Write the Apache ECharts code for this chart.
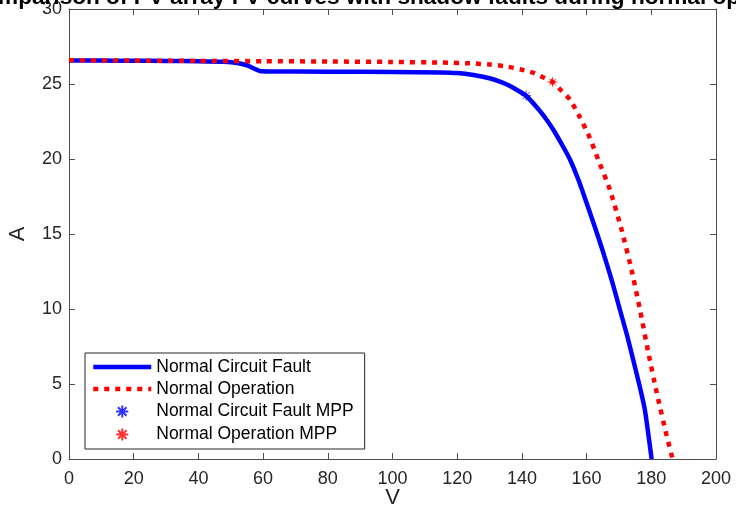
<!DOCTYPE html>
<html>
<head>
    <meta charset="utf-8">
    <title>PV I-V curves</title>
    <script src="https://cdn.jsdelivr.net/npm/echarts@6/dist/echarts.min.js"></script>
</head>
<body style="margin:0">
    <div id="main" style="width: 736px;height:512px;"></div>
    <script type="text/javascript">
        var myChart = echarts.init(document.getElementById('main'));

        // normal circuit fault curve (V, A)
        var faultV = [0, 10, 20, 30, 40, 48, 52, 55, 57, 59, 62, 80, 100, 115, 120, 125, 130, 133, 136, 138.5, 141.3, 145, 147.7, 150, 152.8, 154.9, 157.5, 160, 162.5, 165.2, 168, 170.3, 172.5, 174.4, 176.3, 178, 180.1];
        var faultA = [26.57, 26.56, 26.55, 26.54, 26.52, 26.48, 26.4, 26.25, 26.05, 25.87, 25.84, 25.82, 25.8, 25.77, 25.73, 25.6, 25.38, 25.17, 24.9, 24.6, 24.22, 23.35, 22.6, 21.85, 20.8, 19.95, 18.6, 17.07, 15.5, 13.73, 11.75, 9.95, 8.25, 6.62, 4.95, 3.29, 0];

        // normal operation curve (V, A)
        var normalV = [0, 20, 40, 60, 80, 100, 115, 125, 130, 135, 140, 143.5, 146.5, 149.5, 152, 154.9, 158, 161, 163.6, 167.2, 170.8, 173.9, 176.5, 179.1, 181.7, 184.8, 186.6];
        var normalA = [26.58, 26.56, 26.54, 26.52, 26.5, 26.47, 26.43, 26.37, 26.3, 26.18, 25.95, 25.75, 25.45, 25.13, 24.6, 23.95, 22.75, 21.4, 19.95, 17.95, 15.3, 12.6, 9.95, 7.07, 4.4, 1.5, 0];

        var faultMpp = [141.3, 24.22];
        var normalMpp = [149.5, 25.13];

        var seriesNames = ['Normal Circuit Fault', 'Normal Operation', 'Normal Circuit Fault MPP', 'Normal Operation MPP'];

        function pairs(xs, ys) {
            return xs.map(function (x, i) { return [x, ys[i]]; });
        }

        // matlab style asterisk, with empty margin so the legend icon stays small
        var asterisk = 'path://M-14,-14M14,14M0,-10L0,10M-10,0L10,0M-7,-7L7,7M-7,7L7,-7';
        var axisColor = '#4d4d4d';
        var textColor = '#262626';

        function frameAxis(pos, max, interval) {
            return {
                type: 'value', position: pos,
                min: 0, max: max, interval: interval,
                axisLine: { show: true, onZero: false, lineStyle: { color: axisColor } },
                axisTick: { show: true, inside: true, length: 6, lineStyle: { color: axisColor } },
                axisLabel: { show: false },
                splitLine: { show: false }
            };
        }

        var option = {
            animation: false,
            textStyle: { fontFamily: 'Liberation Sans, Arial, sans-serif' },
            title: {
                text: 'Comparison of PV array I-V curves with shadow faults during normal operation',
                left: -37,
                top: -19,
                textStyle: { fontSize: 22.6, fontWeight: 'bold', color: '#000' }
            },
            grid: { left: 69, right: 20, top: 9, bottom: 53, containLabel: false, outerBoundsMode: 'none' },
            legend: {
                data: seriesNames,
                orient: 'vertical',
                left: 85,
                top: 353,
                itemWidth: 58,
                itemHeight: 17,
                itemGap: 4,
                padding: [5, 11, 5, 6],
                backgroundColor: '#fff',
                borderColor: textColor,
                borderWidth: 1,
                borderRadius: 0,
                lineStyle: { width: 4.5 },
                textStyle: { fontSize: 17.5, color: '#000' }
            },
            xAxis: [{
                type: 'value',
                min: 0, max: 200, interval: 20,
                name: 'V',
                nameLocation: 'middle',
                nameGap: 28,
                nameMoveOverlap: false,
                nameTextStyle: { fontSize: 22, color: textColor },
                axisLine: { onZero: false, lineStyle: { color: axisColor } },
                axisTick: { inside: true, length: 6, lineStyle: { color: axisColor } },
                axisLabel: { fontSize: 18, color: textColor, margin: 11 },
                splitLine: { show: false }
            }, frameAxis('top', 200, 20)],
            yAxis: [{
                type: 'value',
                min: 0, max: 30, interval: 5,
                name: 'A',
                nameLocation: 'middle',
                nameGap: 40,
                nameTextStyle: { fontSize: 22, color: textColor },
                axisLine: { show: true, onZero: false, lineStyle: { color: axisColor } },
                axisTick: { show: true, inside: true, length: 6, lineStyle: { color: axisColor } },
                axisLabel: { fontSize: 18, color: textColor, margin: 7 },
                splitLine: { show: false }
            }, frameAxis('right', 30, 5)],
            series: [{
                name: seriesNames[0],
                type: 'line',
                data: pairs(faultV, faultA),
                symbol: 'none',
                smooth: 0.2,
                lineStyle: { color: '#0000ff', width: 4.5 },
                itemStyle: { color: '#0000ff', opacity: 0 },
                z: 2
            }, {
                name: seriesNames[1],
                type: 'line',
                data: pairs(normalV, normalA),
                symbol: 'none',
                smooth: 0.2,
                lineStyle: { color: '#ff0000', width: 4.5, type: [5, 6] },
                itemStyle: { color: '#ff0000', opacity: 0 },
                z: 3
            }, {
                name: seriesNames[2],
                type: 'scatter',
                data: [faultMpp],
                symbol: asterisk,
                symbolSize: 14,
                itemStyle: { color: 'transparent', borderColor: '#0000ff', borderWidth: 1 },
                z: 4
            }, {
                name: seriesNames[3],
                type: 'scatter',
                data: [normalMpp],
                symbol: asterisk,
                symbolSize: 14,
                itemStyle: { color: 'transparent', borderColor: '#ff0000', borderWidth: 1 },
                z: 4
            }]
        };

        myChart.setOption(option);
    </script>
</body>
</html>
